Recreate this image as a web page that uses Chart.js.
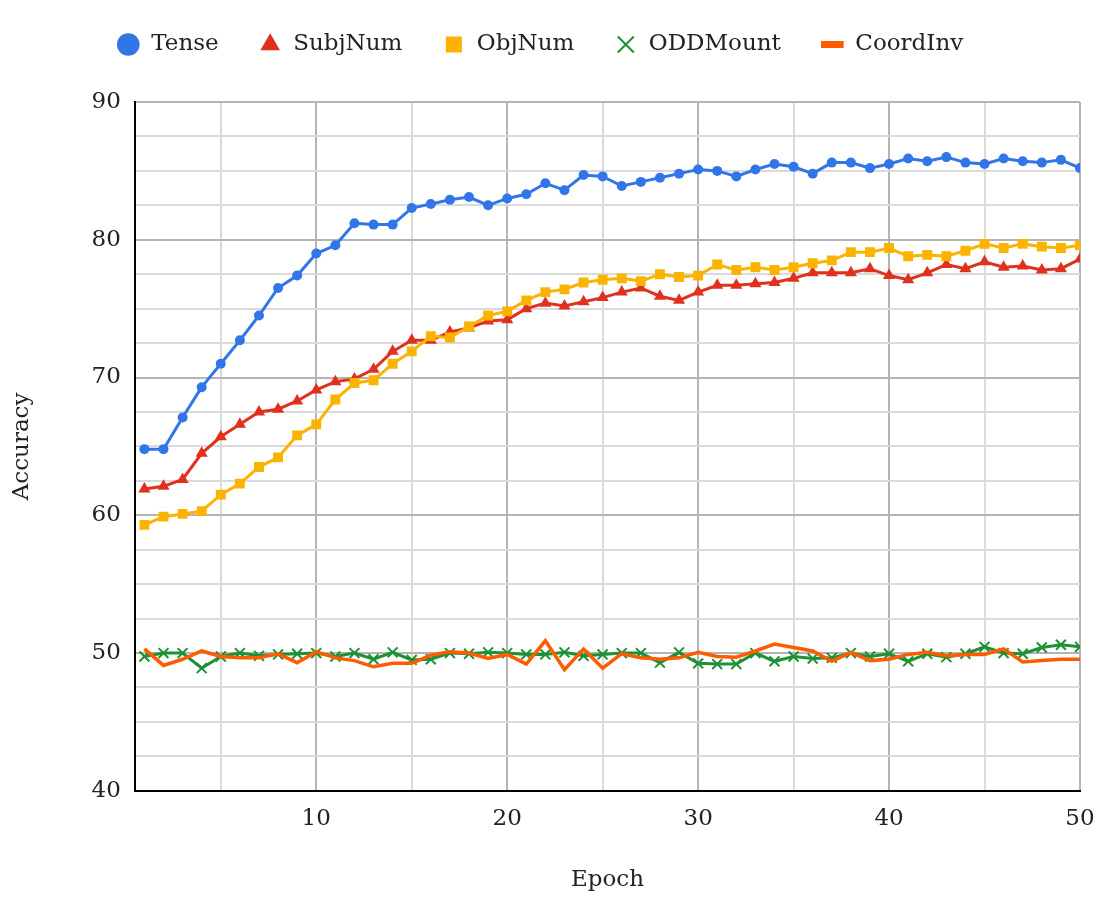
<!DOCTYPE html>
<html>
<head>
<meta charset="utf-8">
<script src="https://cdn.jsdelivr.net/npm/chart.js@4.4.0/dist/chart.umd.min.js"></script>
<style>
  html, body { margin: 0; padding: 0; background: #fff; }
  #wrap { width: 1103px; height: 902px; }
</style>
</head>
<body>
<div id="wrap"><canvas id="accChart"></canvas></div>
<script>
// epochs 1..50
const epochs = [1,2,3,4,5,6,7,8,9,10,11,12,13,14,15,16,17,18,19,20,21,22,23,24,25,
  26,27,28,29,30,31,32,33,34,35,36,37,38,39,40,41,42,43,44,45,46,47,48,49,50];

const tense = [64.8,64.8,67.1,69.3,71.0,72.7,74.5,76.5,77.4,79.0,79.6,81.2,81.1,81.1,82.3,
  82.6,82.9,83.1,82.5,83.0,83.3,84.1,83.6,84.7,84.6,83.9,84.2,84.5,84.8,85.1,
  85.0,84.6,85.1,85.5,85.3,84.8,85.6,85.6,85.2,85.5,85.9,85.7,86.0,85.6,85.5,
  85.9,85.7,85.6,85.8,85.2];

const subjNum = [61.9,62.1,62.6,64.5,65.7,66.6,67.5,67.7,68.3,69.1,69.7,69.9,70.6,71.9,72.7,
  72.7,73.3,73.6,74.1,74.2,75.0,75.4,75.2,75.5,75.8,76.2,76.5,75.9,75.6,76.2,
  76.7,76.7,76.8,76.9,77.2,77.6,77.6,77.6,77.9,77.4,77.1,77.6,78.2,77.9,78.4,
  78.0,78.1,77.8,77.9,78.6];

const objNum = [59.3,59.9,60.1,60.3,61.5,62.3,63.5,64.2,65.8,66.6,68.4,69.6,69.8,71.0,71.9,
  73.0,72.9,73.7,74.5,74.8,75.6,76.2,76.4,76.9,77.1,77.2,77.0,77.5,77.3,77.4,
  78.2,77.8,78.0,77.8,78.0,78.3,78.5,79.1,79.1,79.4,78.8,78.9,78.8,79.2,79.7,
  79.4,79.7,79.5,79.4,79.6];

const oddMount = [49.75,50.0,50.0,48.9,49.75,50.0,49.8,49.9,49.95,50.0,49.75,50.0,49.55,50.05,49.5,
  49.55,50.0,49.95,50.05,50.0,49.9,49.9,50.05,49.8,49.9,50.0,50.0,49.3,50.05,49.25,
  49.2,49.2,50.0,49.4,49.75,49.6,49.65,50.0,49.75,49.95,49.4,49.95,49.7,49.95,50.45,
  50.0,49.95,50.4,50.6,50.45];

const coordInv = [50.3,49.1,49.55,50.15,49.75,49.65,49.65,49.95,49.3,50.1,49.65,49.45,49.0,49.25,49.25,
  49.85,50.1,50.0,49.6,49.9,49.2,50.9,48.8,50.3,48.9,49.95,49.65,49.55,49.65,50.05,
  49.75,49.7,50.15,50.65,50.4,50.15,49.4,50.05,49.45,49.55,49.9,50.05,49.8,49.9,49.9,
  50.3,49.35,49.45,49.55,49.55];

// gridline positions and labelled ticks
const xGrid = [5,10,15,20,25,30,35,40,45,50];
const xLabels = [10,20,30,40,50];
const yGrid = [40,42.5,45,47.5,50,52.5,55,57.5,60,62.5,65,67.5,70,72.5,75,77.5,80,82.5,85,87.5,90];
const yLabels = [40,50,60,70,80,90];

const FONT = "'DejaVu Serif', 'Liberation Serif', serif";
const FSIZE = 23;
const MAJOR = '#b4b4b4';
const MINOR = '#dadada';

function pts(arr) {
  return arr.map(function(v, i) { return { x: epochs[i], y: v }; });
}

// extra space under the legend
const legendGap = {
  id: 'legendGap',
  beforeInit: function(chart) {
    const fit = chart.legend.fit;
    chart.legend.fit = function() {
      fit.bind(chart.legend)();
      this.height += 36;
    };
  }
};

const ctx = document.getElementById('accChart').getContext('2d');
const chart = new Chart(ctx, {
  type: 'line',
  data: {
    datasets: [
      {
        label: 'Tense', data: pts(tense), order: 5,
        borderColor: '#3275e8', backgroundColor: '#3275e8', borderWidth: 3,
        pointStyle: 'circle', pointRadius: 5, pointBorderWidth: 0
      },
      {
        label: 'SubjNum', data: pts(subjNum), order: 4,
        borderColor: '#e0301e', backgroundColor: '#e0301e', borderWidth: 3,
        pointStyle: 'triangle', pointRadius: 7, pointBorderWidth: 0
      },
      {
        label: 'ObjNum', data: pts(objNum), order: 3,
        borderColor: '#fbb300', backgroundColor: '#fbb300', borderWidth: 3,
        pointStyle: 'rect', pointRadius: 7, pointBorderWidth: 0
      },
      {
        label: 'ODDMount', data: pts(oddMount), order: 2,
        borderColor: '#1e9136', backgroundColor: '#1e9136', borderWidth: 3,
        pointStyle: 'crossRot', pointRadius: 7, pointBorderWidth: 2
      },
      {
        label: 'CoordInv', data: pts(coordInv), order: 1,
        borderColor: '#ff5c00', backgroundColor: '#ff5c00', borderWidth: 3.5,
        pointStyle: 'line', pointRadius: 0
      }
    ]
  },
  plugins: [legendGap],
  options: {
    responsive: true,
    maintainAspectRatio: false,
    animation: false,
    layout: { padding: { top: -7, left: 0, right: 23, bottom: 8 } },
    plugins: {
      tooltip: { enabled: false },
      legend: {
        position: 'top',
        align: 'center',
        labels: {
          usePointStyle: true,
          boxHeight: 16,
          padding: 40,
          color: '#222',
          font: { family: FONT, size: FSIZE },
          sort: function(a, b) { return a.datasetIndex - b.datasetIndex; },
          generateLabels: function(chart) {
            const items = Chart.defaults.plugins.legend.labels.generateLabels(chart);
            items.forEach(function(it) {
              if (it.text === 'CoordInv') {
                it.pointStyle = 'line';
                it.lineWidth = 7;
              }
            });
            return items;
          }
        }
      }
    },
    scales: {
      x: {
        type: 'linear',
        min: 0.5,
        max: 50,
        afterBuildTicks: function(axis) {
          axis.ticks = xGrid.map(function(v) { return { value: v }; });
        },
        afterFit: function(axis) {
          axis.paddingRight = 10;
        },
        ticks: {
          autoSkip: false,
          maxRotation: 0,
          padding: 14,
          color: '#222',
          font: { family: FONT, size: FSIZE },
          callback: function(v) { return xLabels.indexOf(v) >= 0 ? String(v) : ''; }
        },
        grid: {
          drawTicks: false,
          lineWidth: 2,
          color: function(c) { return (c.tick && xLabels.indexOf(c.tick.value) >= 0) ? MAJOR : MINOR; }
        },
        border: { display: true, color: '#000', width: 2 },
        title: {
          display: true, text: 'Epoch', color: '#222',
          font: { family: FONT, size: FSIZE },
          padding: { top: 20, bottom: 0 }
        }
      },
      y: {
        min: 40,
        max: 90,
        afterBuildTicks: function(axis) {
          axis.ticks = yGrid.map(function(v) { return { value: v }; });
        },
        ticks: {
          autoSkip: false,
          padding: 14,
          color: '#222',
          font: { family: FONT, size: FSIZE },
          callback: function(v) { return yLabels.indexOf(v) >= 0 ? String(v) : ''; }
        },
        grid: {
          drawTicks: false,
          lineWidth: 2,
          color: function(c) { return (c.tick && yLabels.indexOf(c.tick.value) >= 0) ? MAJOR : MINOR; }
        },
        border: { display: true, color: '#000', width: 2 },
        title: {
          display: true, text: 'Accuracy', color: '#222',
          font: { family: FONT, size: FSIZE },
          padding: { top: 8, bottom: 42 }
        }
      }
    }
  }
});
</script>
</body>
</html>
